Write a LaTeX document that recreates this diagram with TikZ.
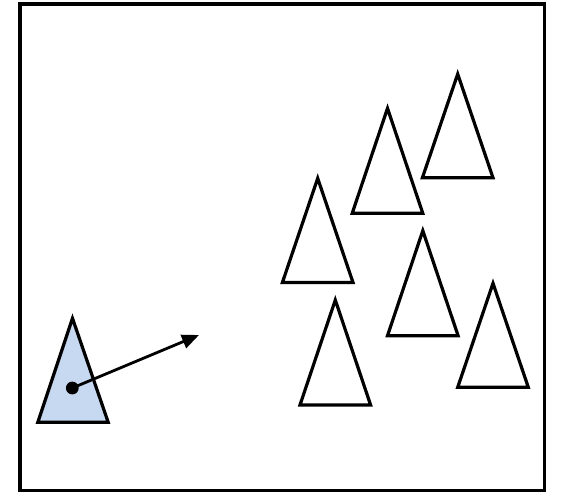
\documentclass[tikz,border=0pt]{standalone}
\usetikzlibrary{arrows.meta}
\definecolor{tribl}{RGB}{198,217,240}
\begin{document}
\begin{tikzpicture}[x=1pt,y=-1pt,line width=3.2pt,line join=miter,
  tri/.style={draw=black,fill=white},
  bluetri/.style={draw=black,fill=tribl},
  frame/.style={draw=black,line width=3.2pt},
  vec/.style={draw=black,line width=2.8pt,-{Triangle[length=17,width=14]}}]
\useasboundingbox (0,0) rectangle (565,493);
\draw[frame] (20,4) rectangle (544.5,490.5);
% white triangles: apex x, apex y, base y, half width 35
\foreach \ax/\ay/\by in {317.7/178.3/282.5, 387.5/108.3/213.3, 457.7/74/177.8, 422.8/230.7/335.7, 335.3/300/405, 493/283.3/387.3}{
  \draw[tri] (\ax,\ay) -- (\ax+35.3,\by) -- (\ax-35.3,\by) -- cycle;
}
\draw[bluetri] (72.5,318.3) -- (108.2,422.3) -- (37.8,422.3) -- cycle;
\coordinate (dot) at (72.3,388);
\coordinate (tip) at (199,335);
\fill[black] (dot) circle (6.4);
\draw[vec] (dot) -- (tip);
\end{tikzpicture}
\end{document}
